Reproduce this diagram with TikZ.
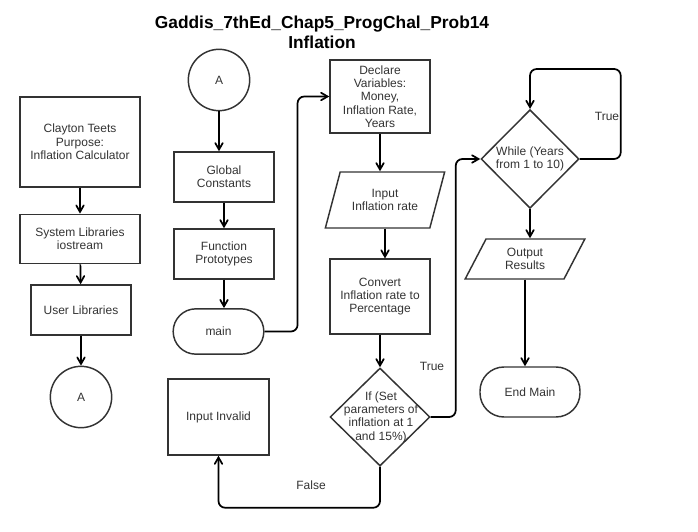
\documentclass[tikz,border=0pt]{standalone}
\usepackage{tikz}
\usepackage{fontspec}
\setmainfont{Liberation Sans}
\usetikzlibrary{shapes.geometric,
	arrows,
	positioning}

\tikzset{
	txt/.style={font=\fontsize{9}{10}\selectfont, text=black!80, align=center},
	block/.style={txt, draw=black!80, line width=1.1pt, rectangle, inner sep=1pt},
	conn/.style={block, circle, minimum size=46pt},
	term/.style={block, rounded corners=17pt},
	io/.style={block, trapezium, trapezium left angle=65, trapezium right angle=115,
		trapezium stretches=true},
	decision/.style={draw=black!80, line width=1.1pt, diamond, inner sep=0pt},
	arrow/.style={->, >=angle 60, line width=1.3pt, black},
	heading/.style={font=\bfseries\fontsize{13}{15}\selectfont, align=center}
}

\begin{document}
\begin{tikzpicture}[x=0.75pt, y=-0.75pt]
	\useasboundingbox (0,0) rectangle (698,531);
	\node[heading] (ttl) at (322,32) {Gaddis\_7thEd\_Chap5\_ProgChal\_Prob14\\Inflation};

	\node[block, minimum width=90pt, minimum height=67.5pt] (clayton) at (80,142) {Clayton Teets\\Purpose:\\Inflation Calculator};
	\node[block, minimum width=90pt, minimum height=37pt] (syslib) at (80,239) {System Libraries\\iostream};
	\node[block, minimum width=75pt, minimum height=37.5pt] (usrlib) at (81,310) {User Libraries};
	\node[conn] (conA) at (81,397) {A};

	\node[conn] (conAtop) at (219,80) {A};
	\node[block, minimum width=75pt, minimum height=37.5pt] (glob) at (224,177) {Global\\Constants};
	\node[block, minimum width=75pt, minimum height=37.5pt] (proto) at (224,254) {Function\\Prototypes};
	\node[term, minimum width=68pt, minimum height=34pt] (mainfn) at (218.5,331.5) {main};
	\node[block, minimum width=76pt, minimum height=57pt] (invalid) at (218.5,417) {Input Invalid};

	\node[block, minimum width=75pt, minimum height=55pt] (decl) at (380,96.5) {Declare\\Variables:\\Money,\\Inflation Rate,\\Years};
	\node[io, minimum width=90pt, minimum height=42pt] (inrate) at (385,200) {Input\\Inflation rate};
	\node[block, minimum width=75pt, minimum height=56pt] (conv) at (380,296.5) {Convert\\Inflation rate to\\Percentage};
	\node[decision, minimum width=75pt, minimum height=73.5pt] (ifchk) at (380,417) {};
	\node[txt] (ifchk-t) at (381,417) {If (Set\\parameters of\\inflation at 1\\and 15\%)};

	\node[decision, minimum width=73.5pt, minimum height=74pt] (loop) at (530,159) {};
	\node[txt] (loop-t) at (530,159) {While (Years\\from 1 to 10)};
	\node[io, minimum width=90pt, minimum height=30pt] (outres) at (525,259) {Output\\Results};
	\node[term, rounded corners=18pt, minimum width=75pt, minimum height=37.5pt] (endmain) at (530,392) {End Main};

	\draw[arrow] (clayton) -- (syslib);
	\draw[arrow] (syslib) -- (usrlib);
	\draw[arrow] (usrlib) -- (conA);
	\draw[arrow] (conAtop.south) -- (conAtop.south |- glob.north);
	\draw[arrow] (glob) -- (proto);
	\draw[arrow] (proto.south) -- (proto.south |- mainfn.north);
	\draw[arrow, rounded corners=5pt] (mainfn.east) -- ++(33,0) |- (decl.west);
	\draw[arrow] (decl.south) -- (decl.south |- inrate.north);
	\draw[arrow] (inrate.south) -- (inrate.south |- conv.north);
	\draw[arrow] (conv) -- (ifchk);
	\draw[arrow, rounded corners=5pt] (ifchk.south) -- ++(0,41) -| (invalid.south);
	\draw[arrow, rounded corners=5pt] (ifchk.east) -- ++(25,0) |- (loop.west);
	\draw[arrow, rounded corners=5pt] (loop.east) -- ++(41,0) -- ++(0,-90) -| (loop.north);
	\draw[arrow] (loop.south) -- (loop.south |- outres.north);
	\draw[arrow] (outres.south) -- (outres.south |- endmain.north);

	\node[txt] (truea) at (432,366) {True};
	\node[txt] (falsea) at (311,485) {False};
	\node[txt] (trueb) at (607,116) {True};
\end{tikzpicture}
\end{document}
